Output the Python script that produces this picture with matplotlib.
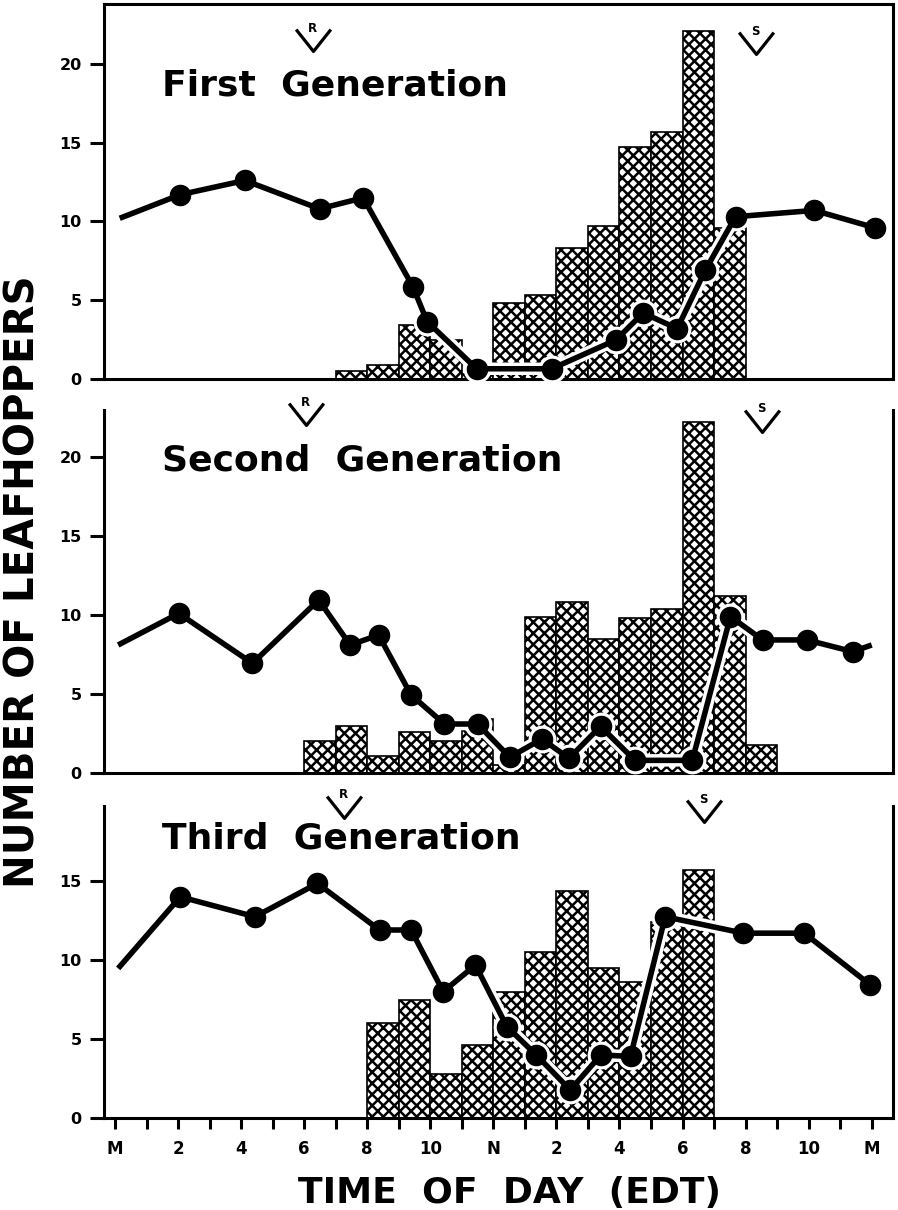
#!/usr/bin/env python3
"""Leafhopper counts by time of day for three generations (bars + line)."""

import matplotlib
matplotlib.use("Agg")
import matplotlib.pyplot as plt
from matplotlib.path import Path

plt.rcParams["font.family"] = ["DejaVu Sans"]
plt.rcParams["font.weight"] = "bold"
plt.rcParams["hatch.linewidth"] = 1.8

# ── data ─────────────────────────────────────────────────────────────────────

# bars: hour bin start, count
FIRST_BAR_H = [7, 8, 9, 10, 11, 12, 13, 14, 15, 16, 17, 18, 19]
FIRST_BAR_N = [0.5, 0.9, 3.4, 2.5, 0.3, 4.8, 5.3, 8.3, 9.7, 14.7, 15.7, 22.1, 9.6]

SECOND_BAR_H = [6, 7, 8, 9, 10, 11, 12, 13, 14, 15, 16, 17, 18, 19, 20]
SECOND_BAR_N = [2.0, 3.0, 1.1, 2.6, 2.0, 3.4, 0.5, 9.9, 10.8, 8.5, 9.8, 10.4,
                22.2, 11.2, 1.8]

THIRD_BAR_H = [8, 9, 10, 11, 12, 13, 14, 15, 16, 17, 18]
THIRD_BAR_N = [6.0, 7.5, 2.8, 4.6, 8.0, 10.5, 14.4, 9.5, 8.6, 12.4, 15.7]

# line: sample time (h), count
FIRST_T = [0.15, 2.07, 4.12, 6.49, 7.87, 9.45, 9.9, 11.47, 13.85, 15.89, 16.75,
           17.83, 18.72, 19.68, 22.18, 24.1]
FIRST_N = [10.2, 11.7, 12.6, 10.8, 11.5, 5.85, 3.64, 0.65, 0.65, 2.48, 4.19,
           3.2, 6.9, 10.3, 10.7, 9.6]
FIRST_BARE = [0]  # line ends drawn without a dot

SECOND_T = [0.1, 2.02, 4.36, 6.46, 7.46, 8.36, 9.39, 10.45, 11.5, 12.52, 13.54,
            14.4, 15.4, 16.49, 18.31, 19.52, 20.54, 21.94, 23.4, 24.0]
SECOND_N = [8.1, 10.1, 6.94, 10.95, 8.1, 8.73, 4.94, 3.1, 3.1, 1.0, 2.15,
            0.93, 2.95, 0.8, 0.8, 9.9, 8.42, 8.42, 7.68, 8.1]
SECOND_BARE = [0, 19]

THIRD_T = [0.1, 2.07, 4.44, 6.42, 8.39, 9.39, 10.41, 11.43, 12.43, 13.36, 14.44,
           15.41, 16.35, 17.45, 19.93, 21.86, 23.96]
THIRD_N = [9.47, 14.0, 12.74, 14.85, 11.9, 11.9, 8.0, 9.68, 5.78, 3.99, 1.77,
           3.99, 3.9, 12.74, 11.7, 11.7, 8.42]
THIRD_BARE = [0]

SUNRISE_H = [6.29, 6.05, 7.26]
SUNSET_H = [20.33, 20.51, 18.67]

TITLES = ["First  Generation", "Second  Generation", "Third  Generation"]
YTICKS = [[0, 5, 10, 15, 20], [0, 5, 10, 15, 20], [0, 5, 10, 15]]
XTICK_LABELS = ["M", "", "2", "", "4", "", "6", "", "8", "", "10", "", "N",
                "", "2", "", "4", "", "6", "", "8", "", "10", "", "M"]

# ── layout ───────────────────────────────────────────────────────────────────

W, H = 898, 1210
LEFT, RIGHT = 104, 893
# (top px, bottom px, ymax, title y, sunrise y, sunset y)
PANELS = [
    (4, 379, 23.8, 18.6, 21.5, 21.3),
    (410, 773, 22.97, 19.8, 22.7, 22.3),
    (806, 1118, 19.75, 17.7, 19.7, 19.44),
]
XLIM = (-0.349, 24.675)

V_MARK = Path([(-1, 0.63), (0, -0.63), (1, 0.63)],
              [Path.MOVETO, Path.LINETO, Path.LINETO])


def sun_mark(ax, h, y, letter):
    ax.plot([h], [y], marker=V_MARK, ms=25, mew=2.3, mfc="none", mec="black",
            ls="none", clip_on=False, zorder=6)
    ax.annotate(letter, xy=(h, y), xytext=(-0.5, 8.5), textcoords="offset points",
                ha="center", va="center", fontsize=8.5, fontweight="bold",
                annotation_clip=False, zorder=6)


def draw_panel(ax, bar_h, bar_n, t, n, bare, idx):
    top, bot, ymax, title_y, rise_y, set_y = PANELS[idx]
    ax.bar(bar_h, bar_n, width=1.0, align="edge", color="white",
           edgecolor="black", linewidth=1.2, hatch="xxx", zorder=2)

    marked = [i for i in range(len(t)) if i not in bare]
    # white halo behind the line where it crosses the bars
    ax.plot(t, n, color="white", lw=9, marker="o", ms=19, markevery=marked,
            solid_capstyle="butt", zorder=3, clip_on=False)
    ax.plot(t, n, color="black", lw=4, marker="o", ms=14.5, markevery=marked,
            solid_capstyle="butt", zorder=4, clip_on=False)

    ax.text(1.5, title_y, TITLES[idx], fontsize=26, fontweight="bold",
            ha="left", va="center")
    sun_mark(ax, SUNRISE_H[idx], rise_y, "R")
    sun_mark(ax, SUNSET_H[idx], set_y, "S")

    ax.set_xlim(*XLIM)
    ax.set_ylim(0, ymax)
    ax.set_yticks(YTICKS[idx])
    ax.tick_params(axis="y", direction="out", length=10, width=2.2, pad=6,
                   labelsize=11.5)
    for side in ("left", "right", "bottom", "top"):
        ax.spines[side].set_linewidth(2.2)
    ax.spines["top"].set_visible(idx == 0)
    if idx < 2:
        ax.tick_params(axis="x", bottom=False, labelbottom=False)
    else:
        ax.set_xticks(range(25))
        ax.set_xticklabels(XTICK_LABELS)
        ax.tick_params(axis="x", direction="out", length=8, width=2.2, pad=8,
                       labelsize=12)


fig = plt.figure(figsize=(W / 100, H / 100), dpi=100)
series = [
    (FIRST_BAR_H, FIRST_BAR_N, FIRST_T, FIRST_N, FIRST_BARE),
    (SECOND_BAR_H, SECOND_BAR_N, SECOND_T, SECOND_N, SECOND_BARE),
    (THIRD_BAR_H, THIRD_BAR_N, THIRD_T, THIRD_N, THIRD_BARE),
]
for i, (bh, bn, t, n, bare) in enumerate(series):
    top, bot = PANELS[i][0], PANELS[i][1]
    ax = fig.add_axes([LEFT / W, 1 - bot / H, (RIGHT - LEFT) / W, (bot - top) / H])
    draw_panel(ax, bh, bn, t, n, bare, i)

fig.text(0.026, 1 - 582 / H, "NUMBER OF LEAFHOPPERS", rotation=90,
         fontsize=29, fontweight="bold", ha="center", va="center")
fig.text(0.567, 1 - 1203 / H, "TIME  OF  DAY  (EDT)", fontsize=26,
         fontweight="bold", ha="center", va="baseline")

fig.savefig("out.png", dpi=100)
plt.close(fig)
